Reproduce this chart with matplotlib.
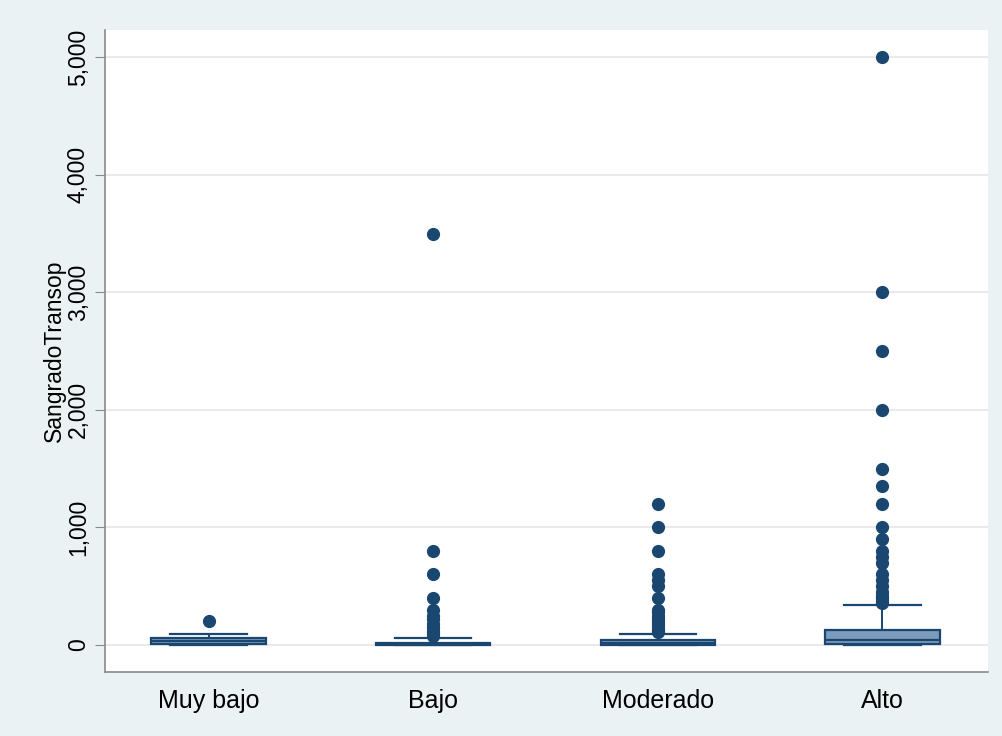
import matplotlib.pyplot as plt
from matplotlib.ticker import FuncFormatter

plt.rcParams['font.family'] = ['Liberation Sans', 'DejaVu Sans']

# riesgo groups and box summaries (ml of bleeding)
grupos = ['Muy bajo', 'Bajo', 'Moderado', 'Alto']
q1 = [5, 0, 0, 10]
mediana = [30, 5, 15, 40]
q3 = [55, 20, 40, 130]
bigote_inf = [0, 0, 0, 0]
bigote_sup = [95, 60, 95, 340]

# outside values per group
atipicos_muybajo = [200]
atipicos_bajo = [3500, 800, 600, 400, 300, 250, 220, 180, 150, 120, 100, 80]
atipicos_moderado = [1200, 1000, 800, 600, 550, 500, 400, 300, 280, 250, 220,
                     200, 180, 150, 130, 120, 110]
atipicos_alto = [5000, 3000, 2500, 2000, 1500, 1350, 1200, 1000, 900, 800,
                 750, 700, 600, 550, 500, 450, 420, 400, 380, 360]
atipicos = [atipicos_muybajo, atipicos_bajo, atipicos_moderado, atipicos_alto]

azul = '#1a476f'
relleno = '#7d9bbb'
fondo = '#eaf2f3'

stats = []
for i, g in enumerate(grupos):
    stats.append({'label': g, 'q1': q1[i], 'med': mediana[i], 'q3': q3[i],
                  'whislo': bigote_inf[i], 'whishi': bigote_sup[i],
                  'fliers': atipicos[i]})

fig = plt.figure(figsize=(10.02, 7.36), dpi=100, facecolor=fondo)
ax = fig.add_axes([0.105, 0.087, 0.881, 0.872])
ax.set_facecolor('white')

ax.bxp(stats, positions=[1, 2, 3, 4], widths=0.51, capwidths=0.34,
       patch_artist=True, showfliers=True,
       boxprops=dict(facecolor=relleno, edgecolor=azul, linewidth=1.6),
       medianprops=dict(color=azul, linewidth=1.6),
       whiskerprops=dict(color=azul, linewidth=1.4),
       capprops=dict(color=azul, linewidth=1.6),
       flierprops=dict(marker='o', markerfacecolor=azul, markeredgecolor=azul,
                       markersize=8.5, linestyle='none'))

ax.set_xlim(0.54, 4.47)
ax.set_ylim(-230, 5230)
ax.set_yticks([0, 1000, 2000, 3000, 4000, 5000])
ax.yaxis.set_major_formatter(FuncFormatter(lambda v, p: f'{int(v):,}'))
ax.yaxis.grid(True, color='#eaeaea', linewidth=1.5)
ax.set_axisbelow(True)

for s in ['top', 'right']:
    ax.spines[s].set_visible(False)
for s in ['left', 'bottom']:
    ax.spines[s].set_color('#8a8a8a')
    ax.spines[s].set_linewidth(1.2)

ax.tick_params(axis='y', length=7, color='#8a8a8a', labelsize=16.5,
               labelrotation=90, pad=4)
ax.tick_params(axis='x', length=0, labelsize=18, pad=12)
for lab in ax.get_yticklabels():
    lab.set_va('center')

ax.set_xticks([1, 2, 3, 4])
ax.set_xticklabels(grupos)
ax.set_ylabel('SangradoTransop', fontsize=16.5)
ax.yaxis.set_label_coords(-0.044, 0.5)

fig.savefig('out.png', dpi=100, facecolor=fondo)
